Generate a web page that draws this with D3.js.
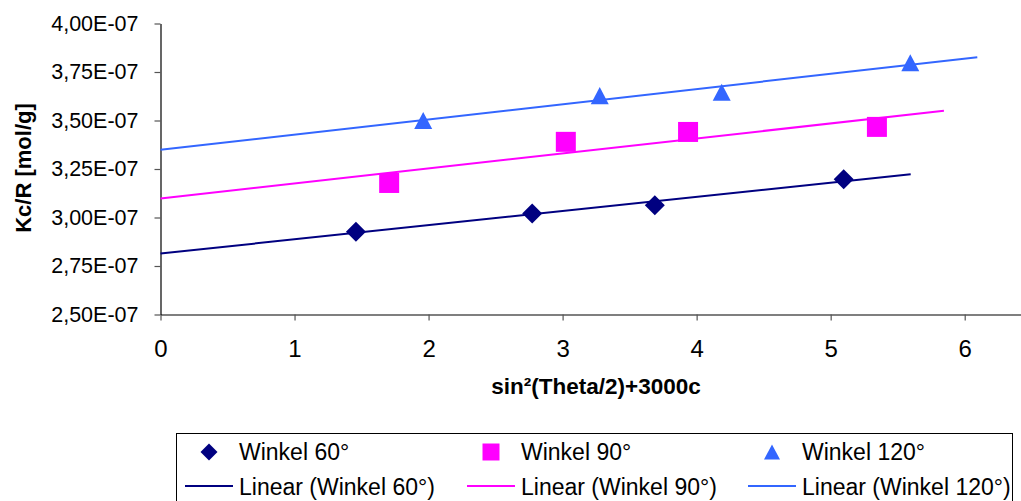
<!DOCTYPE html>
<html>
<head>
<meta charset="utf-8">
<script src="https://cdn.jsdelivr.net/npm/d3@7"></script>
<style>
  body { margin: 0; background: #fff; }
  text { font-family: "Liberation Sans", Arial, sans-serif; fill: #000; }
</style>
</head>
<body>
<script>
const width = 1021;
const height = 501;

// data
const x60 = [1.458, 2.773, 3.688, 5.097];
const y60 = [2.926e-7, 3.021e-7, 3.063e-7, 3.197e-7];
const x90 = [1.706, 3.024, 3.936, 5.345];
const y90 = [3.178e-7, 3.390e-7, 3.441e-7, 3.467e-7];
const x120 = [1.960, 3.277, 4.187, 5.594];
const y120 = [3.500e-7, 3.628e-7, 3.646e-7, 3.798e-7];

const seriesNames = ["Winkel 60°", "Winkel 90°", "Winkel 120°"];
const trendNames = ["Linear (Winkel 60°)", "Linear (Winkel 90°)", "Linear (Winkel 120°)"];
const colors = ["#000080", "#ff00ff", "#3366ff"];
const forecast = 0.5; // trendline goes forward past the last point

const xTicks = [0, 1, 2, 3, 4, 5, 6];
const yTicks = [2.5e-7, 2.75e-7, 3.0e-7, 3.25e-7, 3.5e-7, 3.75e-7, 4.0e-7];

const xTitle = "sin²(Theta/2)+3000c";
const yTitle = "Kc/R [mol/g]";

// excel-like markers, "size" is the width in px
const diamond = {
  draw(ctx, s) {
    const r = s / 2;
    ctx.moveTo(0, -r); ctx.lineTo(r, 0); ctx.lineTo(0, r); ctx.lineTo(-r, 0); ctx.closePath();
  }
};
const square = {
  draw(ctx, s) {
    const r = s / 2;
    ctx.rect(-r, -r, s, s);
  }
};
const triangle = {
  draw(ctx, s) {
    const r = s / 2, h = s * 0.95 / 2;
    ctx.moveTo(0, -h); ctx.lineTo(r, h); ctx.lineTo(-r, h); ctx.closePath();
  }
};
const shapes = [diamond, square, triangle];
const markerSize = [20, 20, 18];
const legendMarkerSize = [17, 17, 16];

const series = [[x60, y60], [x90, y90], [x120, y120]].map(([xs, ys], i) => ({
  name: seriesNames[i],
  trend: trendNames[i],
  color: colors[i],
  shape: shapes[i],
  points: xs.map((x, j) => ({ x: x, y: ys[j] }))
}));

function fit(points) {
  const mx = d3.mean(points, d => d.x);
  const my = d3.mean(points, d => d.y);
  const sxy = d3.sum(points, d => (d.x - mx) * (d.y - my));
  const sxx = d3.sum(points, d => (d.x - mx) ** 2);
  const b = sxy / sxx;
  return { a: my - b * mx, b: b };
}

const x = d3.scaleLinear().domain([0, 6.42]).range([160.5, 1021]);
const y = d3.scaleLinear().domain([2.5e-7, 4.0e-7]).range([314.5, 23.5]);

const fmt = v => (v / 1e-7).toFixed(2).replace(".", ",") + "E-07";

const svg = d3.select("body").append("svg")
  .attr("width", width)
  .attr("height", height);

// axes
const xAxis = svg.append("g")
  .attr("transform", `translate(0,${y.range()[0]})`)
  .call(d3.axisBottom(x).tickValues(xTicks).tickFormat(d3.format("d")).tickSize(6).tickPadding(19).tickSizeOuter(0));
const yAxis = svg.append("g")
  .attr("transform", `translate(${x.range()[0]},0)`)
  .call(d3.axisLeft(y).tickValues(yTicks).tickFormat(fmt).tickSize(6).tickPadding(16).tickSizeOuter(0));

[xAxis, yAxis].forEach(g => {
  g.select(".domain").attr("stroke", "#000").attr("stroke-width", 1.2);
  g.selectAll(".tick line").attr("stroke", "#555").attr("stroke-width", 1.2);
  g.selectAll(".tick text")
    .attr("fill", "#000")
    .style("font-family", "'Liberation Sans', Arial, sans-serif");
});
xAxis.selectAll(".tick text").style("font-size", "24px");
yAxis.selectAll(".tick text").style("font-size", "21.5px");

// trend lines
const line = d3.line().x(d => x(d.x)).y(d => y(d.y));
series.forEach(s => {
  const f = fit(s.points);
  const x1 = d3.max(s.points, d => d.x) + forecast;
  svg.append("path")
    .datum([{ x: 0, y: f.a }, { x: x1, y: f.a + f.b * x1 }])
    .attr("d", line)
    .attr("fill", "none")
    .attr("stroke", s.color)
    .attr("stroke-width", 2);
});

// markers
series.forEach((s, i) => {
  svg.append("g").selectAll("path")
    .data(s.points)
    .join("path")
    .attr("transform", d => `translate(${x(d.x)},${y(d.y)})`)
    .attr("d", d3.symbol().type(s.shape).size(markerSize[i]))
    .attr("fill", s.color);
});

// axis titles
svg.append("text")
  .attr("x", 596)
  .attr("y", 394)
  .attr("text-anchor", "middle")
  .style("font-weight", "bold")
  .style("font-size", "22.5px")
  .text(xTitle);

svg.append("text")
  .attr("transform", "translate(31,168) rotate(-90)")
  .attr("text-anchor", "middle")
  .style("font-weight", "bold")
  .style("font-size", "22px")
  .text(yTitle);

// legend
const legend = svg.append("g");
legend.append("rect")
  .attr("x", 176.5).attr("y", 433.5)
  .attr("width", 836).attr("height", 80)
  .attr("fill", "#fff")
  .attr("stroke", "#000")
  .attr("stroke-width", 1);

const colX = [176, 458, 739];
series.forEach((s, i) => {
  const g = legend.append("g").attr("transform", `translate(${colX[i]},0)`);
  g.append("path")
    .attr("transform", `translate(33,452)`)
    .attr("d", d3.symbol().type(s.shape).size(legendMarkerSize[i]))
    .attr("fill", s.color);
  g.append("text")
    .attr("x", 63).attr("y", 460)
    .style("font-size", "23px")
    .text(s.name);
  g.append("line")
    .attr("x1", 9).attr("x2", 57)
    .attr("y1", 486).attr("y2", 486)
    .attr("stroke", s.color)
    .attr("stroke-width", 2);
  g.append("text")
    .attr("x", 63).attr("y", 495)
    .style("font-size", "23px")
    .text(s.trend);
});
</script>
</body>
</html>
